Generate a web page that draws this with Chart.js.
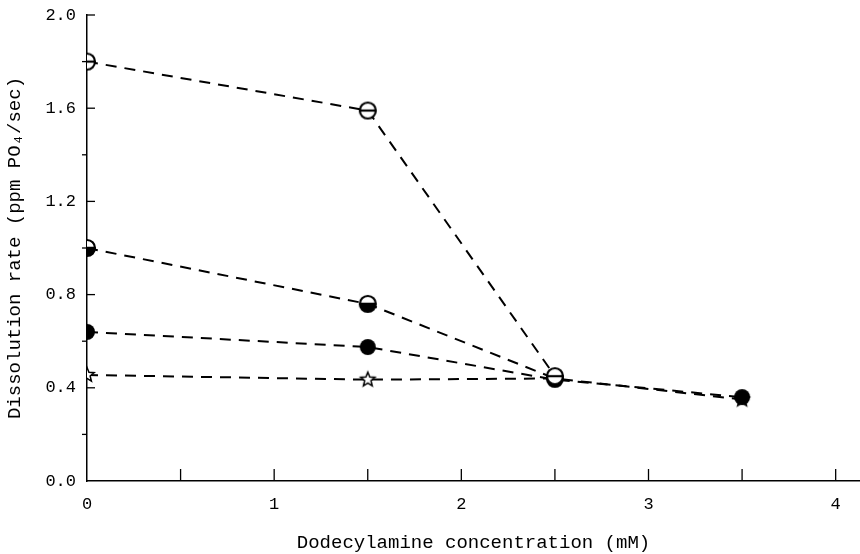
<!DOCTYPE html>
<html><head><meta charset="utf-8">
<script src="https://cdn.jsdelivr.net/npm/chart.js@4"></script>
<style>html,body{margin:0;padding:0;background:#fff}</style>
</head><body>
<canvas id="c" width="860" height="554"></canvas>
<script>
// Data
const concentrations = [0, 1.5, 2.5, 3.5];           // mM
const seriesBarCircle = [1.80, 1.59, 0.45];          // open circle with bar
const seriesHalfCircle = [1.00, 0.76, 0.44];         // half-filled circle
const seriesFilled = [0.64, 0.575, 0.435, 0.36];     // filled circle
const seriesStar = [0.455, 0.435, 0.44, 0.35];       // open star
const xTickLabels = ['0', '1', '2', '3', '4'];
const yTickLabels = ['0.0', '0.4', '0.8', '1.2', '1.6', '2.0'];

const FONT = "'Liberation Mono', 'DejaVu Sans Mono', monospace";

function marker(kind) {
  const s = 24, c = document.createElement('canvas');
  c.width = s; c.height = s;
  const g = c.getContext('2d');
  const cx = s / 2, cy = s / 2, r = 8;
  g.lineWidth = 2.2; g.strokeStyle = '#000'; g.fillStyle = '#000';
  if (kind === 'star') {
    g.beginPath();
    for (let i = 0; i < 10; i++) {
      const rr = i % 2 === 0 ? 7.5 : 3.3;
      const a = -Math.PI / 2 + i * Math.PI / 5;
      const px = cx + rr * Math.cos(a), py = cy + rr * Math.sin(a);
      i === 0 ? g.moveTo(px, py) : g.lineTo(px, py);
    }
    g.closePath();
    g.fillStyle = '#fff'; g.fill();
    g.lineWidth = 1.5; g.stroke();
    return c;
  }
  g.beginPath(); g.arc(cx, cy, r, 0, Math.PI * 2);
  if (kind === 'filled') { g.fill(); return c; }
  g.fillStyle = '#fff'; g.fill(); g.stroke();
  if (kind === 'half') {
    g.beginPath(); g.arc(cx, cy, r, -0.15, Math.PI + 0.15); g.closePath();
    g.fillStyle = '#000'; g.fill();
  }
  if (kind === 'bar') {
    g.beginPath(); g.moveTo(cx - r, cy); g.lineTo(cx + r, cy); g.stroke();
  }
  return c;
}

function pts(vals) { return vals.map((v, i) => ({ x: concentrations[i], y: v })); }

function ds(vals, kind, order) {
  return {
    data: pts(vals),
    borderColor: '#000',
    borderWidth: 2,
    borderDash: [11, 8],
    pointStyle: marker(kind),
    pointRadius: 8,
    pointHoverRadius: 8,
    fill: false,
    tension: 0,
    order: order
  };
}

const innerTicks = {
  id: 'innerTicks',
  afterDraw(chart) {
    const { ctx, chartArea: a, scales: { x, y } } = chart;
    ctx.save();
    ctx.strokeStyle = '#000';
    ctx.lineWidth = 1.3;
    x.ticks.forEach(t => {
      if (t.value <= 0) return;
      const px = x.getPixelForValue(t.value);
      ctx.beginPath(); ctx.moveTo(px, a.bottom); ctx.lineTo(px, a.bottom - 12); ctx.stroke();
    });
    y.ticks.forEach(t => {
      const k = Math.round(t.value / 0.2);
      if (k === 0) return;
      const py = y.getPixelForValue(t.value);
      ctx.beginPath();
      if (k % 2 === 0) { ctx.moveTo(a.left, py); ctx.lineTo(a.left + 8, py); }
      else { ctx.moveTo(a.left - 5, py); ctx.lineTo(a.left, py); }
      ctx.stroke();
    });
    ctx.restore();
  }
};

new Chart(document.getElementById('c'), {
  type: 'line',
  data: {
    datasets: [
      ds(seriesBarCircle, 'bar', 1),
      ds(seriesHalfCircle, 'half', 2),
      ds(seriesFilled, 'filled', 3),
      ds(seriesStar, 'star', 4)
    ]
  },
  options: {
    responsive: false,
    animation: false,
    layout: { autoPadding: false, padding: { top: 15, right: 0, left: 0, bottom: 0 } },
    plugins: { legend: { display: false }, tooltip: { enabled: false } },
    scales: {
      x: {
        type: 'linear', min: 0, max: 4.13,
        afterFit(s) { s.height = 73; },
        grid: { display: false },
        border: { display: true, color: '#000', width: 1.5 },
        ticks: {
          stepSize: 0.5, includeBounds: false, autoSkip: false, maxRotation: 0,
          color: '#000', padding: 5, font: { family: FONT, size: 17 },
          callback: v => { const i = xTickLabels.indexOf(String(v)); return i >= 0 ? xTickLabels[i] : ''; }
        },
        title: {
          display: true, text: 'Dodecylamine concentration (mM)', color: '#000',
          font: { family: FONT, size: 19 }, padding: { top: 10, bottom: 0 }
        }
      },
      y: {
        type: 'linear', min: 0, max: 2.0,
        afterFit(s) { s.width = 87; },
        grid: { display: false },
        border: { display: true, color: '#000', width: 1.5 },
        ticks: {
          stepSize: 0.2, autoSkip: false, color: '#000', padding: 3,
          font: { family: FONT, size: 17 },
          callback: v => { const l = Number(v).toFixed(1); return yTickLabels.includes(l) && Math.round(v / 0.2) % 2 === 0 ? l : ''; }
        },
        title: {
          display: true, text: 'Dissolution rate (ppm PO\u2084/sec)', color: '#000',
          font: { family: FONT, size: 19 }, padding: { top: 4, bottom: 8 }
        }
      }
    }
  },
  plugins: [innerTicks]
});
</script>
</body></html>
